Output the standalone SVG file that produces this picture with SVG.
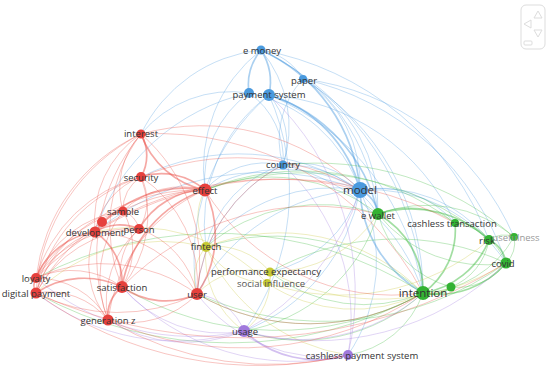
<svg xmlns="http://www.w3.org/2000/svg" width="550" height="367" viewBox="0 0 550 367">
<style>
#edges path{fill:none;stroke-width:1;stroke-opacity:0.32}
.r{stroke:#ea4a40}.b{stroke:#4f9de0}.g{stroke:#3dba3d}.y{stroke:#c9c83a}.p{stroke:#a27ce0}
.t{stroke-width:1.7!important;stroke-opacity:0.48!important}
.nr{fill:#e6413d}.nb{fill:#4a9ade}.ng{fill:#33b233}.ny{fill:#c6c933}.np{fill:#a079dc}
text{font-family:"Open Sans","Liberation Sans",sans-serif;font-size:9.5px;fill:#333;text-anchor:middle;dominant-baseline:central}
.big{font-size:11.5px}
</style>
<rect width="550" height="367" fill="#fff"/>
<g id="edges">
<path class="b t" d="M261,50 A60,60 0 0 1 269,95"/>
<path class="b t" d="M261,50 A55,55 0 0 0 249,93"/>
<path class="b" d="M261,50 A60,60 0 0 1 303,79"/>
<path class="b" d="M261,50 A120,120 0 0 1 283,165"/>
<path class="b t" d="M261,50 A170,170 0 0 1 360,190"/>
<path class="b" d="M261,50 A200,200 0 0 1 378,214"/>
<path class="b" d="M261,50 A290,290 0 0 1 423,293"/>
<path class="b" d="M261,50 A150,150 0 0 0 141,134"/>
<path class="b" d="M261,50 A150,150 0 0 0 205,190"/>
<path class="b" d="M261,50 A300,300 0 0 1 489,240"/>
<path class="b t" d="M269,95 A133,133 0 0 1 360,190"/>
<path class="b" d="M269,95 A71,71 0 0 1 283,165"/>
<path class="b t" d="M269,95 A160,160 0 0 1 378,214"/>
<path class="b" d="M269,95 A255,255 0 0 1 423,293"/>
<path class="b" d="M269,95 A222,222 0 0 1 455,223"/>
<path class="b" d="M269,95 A160,160 0 0 0 206,247"/>
<path class="b" d="M269,95 A215,215 0 0 0 197,294"/>
<path class="b" d="M269,95 A237,237 0 0 1 244,331"/>
<path class="b" d="M249,93 A148,148 0 0 1 360,190"/>
<path class="b" d="M249,93 A210,210 0 0 0 95,232"/>
<path class="b" d="M249,93 A107,107 0 0 0 205,190"/>
<path class="b" d="M249,93 A117,117 0 0 0 141,134"/>
<path class="b" d="M249,93 A80,80 0 0 1 283,165"/>
<path class="b" d="M303,79 A125,125 0 0 1 360,190"/>
<path class="b" d="M303,79 A88,88 0 0 0 283,165"/>
<path class="b" d="M303,79 A248,248 0 0 1 423,293"/>
<path class="b" d="M303,79 A276,276 0 0 1 506,263"/>
<path class="b" d="M303,79 A150,150 0 0 1 378,214"/>
<path class="b" d="M303,79 A265,265 0 0 1 514,237"/>
<path class="b" d="M283,165 A81,81 0 0 1 360,190"/>
<path class="b" d="M283,165 A107,107 0 0 1 378,214"/>
<path class="b" d="M283,165 A190,190 0 0 1 423,293"/>
<path class="b" d="M283,165 A80,80 0 0 0 205,190"/>
<path class="b" d="M283,165 A111,111 0 0 0 206,247"/>
<path class="b" d="M283,165 A157,157 0 0 0 197,294"/>
<path class="b t" d="M360,190 A30,30 0 0 1 378,214"/>
<path class="b t" d="M360,190 A124,124 0 0 0 423,293"/>
<path class="b" d="M360,190 A100,100 0 0 1 455,223"/>
<path class="b" d="M360,190 A140,140 0 0 1 489,240"/>
<path class="b" d="M360,190 A161,161 0 0 1 506,263"/>
<path class="b" d="M360,190 A155,155 0 0 0 205,190"/>
<path class="b" d="M360,190 A165,165 0 0 0 206,247"/>
<path class="b" d="M360,190 A187,187 0 0 1 244,331"/>
<path class="b" d="M360,190 A165,165 0 0 1 348,355"/>
<path class="b" d="M360,190 A196,196 0 0 0 197,294"/>
<path class="b" d="M360,190 A220,220 0 0 0 141,177"/>
<path class="b" d="M360,190 A270,270 0 0 0 95,232"/>
<path class="b" d="M360,190 A120,120 0 0 1 270,272"/>
<path class="g t" d="M378,214 A88,88 0 0 1 423,293"/>
<path class="g" d="M378,214 A78,78 0 0 1 455,223"/>
<path class="g t" d="M378,214 A113,113 0 0 1 489,240"/>
<path class="g" d="M378,214 A135,135 0 0 0 506,263"/>
<path class="g" d="M378,214 A137,137 0 0 1 514,237"/>
<path class="g" d="M378,214 A104,104 0 0 0 451,287"/>
<path class="g t" d="M423,293 A77,77 0 0 0 455,223"/>
<path class="g t" d="M423,293 A86,86 0 0 0 489,240"/>
<path class="g t" d="M423,293 A89,89 0 0 0 506,263"/>
<path class="g" d="M423,293 A111,111 0 0 0 514,237"/>
<path class="g t" d="M423,293 A29,29 0 0 0 451,287"/>
<path class="g" d="M451,287 A60,60 0 0 0 506,263"/>
<path class="g" d="M451,287 A62,62 0 0 0 489,240"/>
<path class="g t" d="M489,240 A29,29 0 0 1 506,263"/>
<path class="g" d="M489,240 A25,25 0 0 1 514,237"/>
<path class="g" d="M455,223 A38,38 0 0 1 489,240"/>
<path class="g" d="M455,223 A65,65 0 0 1 506,263"/>
<path class="g" d="M506,263 A27,27 0 0 0 514,237"/>
<path class="g" d="M423,293 A180,180 0 0 1 244,331"/>
<path class="g" d="M423,293 A226,226 0 0 1 197,294"/>
<path class="g" d="M423,293 A153,153 0 0 1 270,272"/>
<path class="g" d="M423,293 A222,222 0 0 0 206,247"/>
<path class="g" d="M423,293 A301,301 0 0 1 122,287"/>
<path class="g" d="M423,293 A400,400 0 0 1 36,293"/>
<path class="g" d="M378,214 A176,176 0 0 0 206,247"/>
<path class="g" d="M378,214 A174,174 0 0 0 205,190"/>
<path class="g" d="M506,263 A311,311 0 0 1 197,294"/>
<path class="g" d="M489,240 A290,290 0 0 0 205,190"/>
<path class="g" d="M423,293 A95,95 0 0 1 348,355"/>
<path class="g" d="M455,223 A253,253 0 0 0 205,190"/>
<path class="g" d="M378,214 A170,170 0 0 1 244,331"/>
<path class="g" d="M423,293 A387,387 0 0 0 36,278"/>
<path class="g" d="M514,237 A300,300 0 0 0 283,165"/>
<path class="g" d="M506,263 A260,260 0 0 0 270,272"/>
<path class="y" d="M206,247 A70,70 0 0 1 270,272"/>
<path class="y" d="M206,247 A72,72 0 0 0 267,283"/>
<path class="y" d="M206,247 A48,48 0 0 0 197,294"/>
<path class="y" d="M206,247 A57,57 0 0 1 205,190"/>
<path class="y" d="M206,247 A91,91 0 0 0 244,331"/>
<path class="y" d="M270,272 A11,11 0 0 1 267,283"/>
<path class="y" d="M270,272 A66,66 0 0 1 244,331"/>
<path class="y" d="M270,272 A237,237 0 0 0 506,263"/>
<path class="y" d="M270,272 A76,76 0 0 0 197,294"/>
<path class="y" d="M267,283 A156,156 0 0 0 423,293"/>
<path class="y" d="M267,283 A182,182 0 0 0 95,232"/>
<path class="y" d="M206,247 A178,178 0 0 0 36,293"/>
<path class="y" d="M206,247 A186,186 0 0 0 348,355"/>
<path class="y" d="M270,272 A128,128 0 0 0 378,214"/>
<path class="y" d="M267,283 A228,228 0 0 0 489,240"/>
<path class="y" d="M206,247 A200,200 0 0 1 423,293"/>
<path class="p t" d="M244,331 A106,106 0 0 0 348,355"/>
<path class="p" d="M244,331 A59,59 0 0 0 197,294"/>
<path class="p" d="M244,331 A129,129 0 0 1 122,287"/>
<path class="p" d="M244,331 A230,230 0 0 1 36,293"/>
<path class="p" d="M244,331 A186,186 0 0 0 423,293"/>
<path class="p" d="M244,331 A271,271 0 0 0 506,263"/>
<path class="p" d="M244,331 A240,240 0 0 1 36,278"/>
<path class="p" d="M348,355 A160,160 0 0 1 197,294"/>
<path class="p" d="M348,355 A235,235 0 0 1 122,287"/>
<path class="p" d="M348,355 A208,208 0 0 0 283,165"/>
<path class="p" d="M348,355 A270,270 0 0 0 269,95"/>
<path class="p" d="M244,331 A150,150 0 0 1 108,320"/>
<path class="p" d="M244,331 A240,240 0 0 0 360,190"/>
<path class="r t" d="M141,134 A43,43 0 0 1 141,177"/>
<path class="r t" d="M141,134 A87,87 0 0 0 205,190"/>
<path class="r" d="M141,134 A105,105 0 0 0 95,232"/>
<path class="r" d="M141,134 A80,80 0 0 0 123,211"/>
<path class="r" d="M141,134 A182,182 0 0 0 36,278"/>
<path class="r" d="M141,134 A191,191 0 0 0 36,293"/>
<path class="r" d="M141,134 A154,154 0 0 0 122,287"/>
<path class="r" d="M141,134 A170,170 0 0 1 197,294"/>
<path class="r" d="M141,134 A189,189 0 0 0 108,320"/>
<path class="r" d="M141,134 A227,227 0 0 1 360,190"/>
<path class="r" d="M141,134 A300,300 0 0 1 423,293"/>
<path class="r t" d="M141,177 A66,66 0 0 1 205,190"/>
<path class="r" d="M141,177 A38,38 0 0 0 123,211"/>
<path class="r" d="M141,177 A72,72 0 0 0 95,232"/>
<path class="r" d="M141,177 A52,52 0 0 1 139,229"/>
<path class="r" d="M141,177 A112,112 0 0 1 122,287"/>
<path class="r" d="M141,177 A127,127 0 0 1 197,294"/>
<path class="r" d="M141,177 A147,147 0 0 0 36,278"/>
<path class="r" d="M141,177 A155,155 0 0 0 36,293"/>
<path class="r t" d="M205,190 A114,114 0 0 0 95,232"/>
<path class="r t" d="M205,190 A77,77 0 0 0 139,229"/>
<path class="r t" d="M205,190 A124,124 0 0 0 122,287"/>
<path class="r t" d="M205,190 A104,104 0 0 1 197,294"/>
<path class="r" d="M205,190 A166,166 0 0 0 108,320"/>
<path class="r" d="M205,190 A194,194 0 0 0 36,278"/>
<path class="r" d="M205,190 A200,200 0 0 0 36,293"/>
<path class="r" d="M205,190 A84,84 0 0 0 123,211"/>
<path class="r" d="M123,211 A36,36 0 0 0 95,232"/>
<path class="r" d="M123,211 A24,24 0 0 1 139,229"/>
<path class="r" d="M123,211 A76,76 0 0 1 122,287"/>
<path class="r" d="M123,211 A110,110 0 0 0 36,278"/>
<path class="r" d="M123,211 A120,120 0 0 0 36,293"/>
<path class="r" d="M123,211 A110,110 0 0 0 108,320"/>
<path class="r t" d="M95,232 A47,47 0 0 1 139,229"/>
<path class="r t" d="M95,232 A75,75 0 0 0 36,278"/>
<path class="r" d="M95,232 A88,88 0 0 0 36,293"/>
<path class="r t" d="M95,232 A61,61 0 0 1 122,287"/>
<path class="r" d="M95,232 A89,89 0 0 0 108,320"/>
<path class="r" d="M95,232 A124,124 0 0 1 197,294"/>
<path class="r" d="M139,229 A60,60 0 0 0 122,287"/>
<path class="r" d="M139,229 A88,88 0 0 1 197,294"/>
<path class="r" d="M139,229 A115,115 0 0 0 36,278"/>
<path class="r" d="M139,229 A121,121 0 0 0 36,293"/>
<path class="r" d="M139,229 A97,97 0 0 0 108,320"/>
<path class="r t" d="M36,278 A15,15 0 0 0 36,293"/>
<path class="r" d="M36,278 A86,86 0 0 1 122,287"/>
<path class="r" d="M36,278 A82,82 0 0 1 108,320"/>
<path class="r" d="M36,278 A161,161 0 0 1 197,294"/>
<path class="r t" d="M36,293 A86,86 0 0 1 122,287"/>
<path class="r" d="M36,293 A76,76 0 0 1 108,320"/>
<path class="r" d="M36,293 A180,180 0 0 0 197,294"/>
<path class="r t" d="M122,287 A75,75 0 0 0 197,294"/>
<path class="r t" d="M122,287 A36,36 0 0 0 108,320"/>
<path class="r" d="M108,320 A93,93 0 0 0 197,294"/>
<path class="r" d="M197,294 A157,157 0 0 1 283,165"/>
<path class="r" d="M36,278 A338,338 0 0 1 360,190"/>
<path class="r" d="M36,293 A500,500 0 0 0 506,263"/>
<path class="r" d="M108,320 A330,330 0 0 0 423,293"/>
<path class="r" d="M122,287 A268,268 0 0 1 378,214"/>
<path class="r" d="M95,232 A360,360 0 0 1 455,223"/>
<path class="r" d="M197,294 A226,226 0 0 0 423,293"/>
<path class="r" d="M36,293 A380,380 0 0 0 348,355"/>
<path class="r" d="M141,177 A250,250 0 0 1 360,190"/>
<path class="r" d="M205,190 A220,220 0 0 0 423,293"/>
<path class="r" d="M108,320 A320,320 0 0 0 348,355"/>
</g>
<g id="nav" fill="none" stroke="#ddd" stroke-width="1">
<rect x="521" y="5" width="24" height="44" rx="5"/>
<path d="M538,11 L542,18 L534,18 Z"/>
<path d="M524,24 L531,20 L531,28 Z"/>
<path d="M538,37 L542,30 L534,30 Z"/>
<rect x="524" y="41" width="8" height="4" rx="1"/>
</g>
<g id="nodes">
<g id="n-emoney"><circle class="nb" cx="261" cy="50" r="4.5"/><text x="262" y="50">e money</text></g>
<g id="n-paper"><circle class="nb" cx="303" cy="79" r="4"/><text x="304" y="80">paper</text></g>
<g id="n-paymentsystem"><circle class="nb" cx="249" cy="93" r="5"/><circle class="nb" cx="269" cy="95" r="6"/><text x="269" y="94">payment system</text></g>
<g id="n-country"><circle class="nb" cx="283" cy="165" r="4.5"/><text x="283" y="164">country</text></g>
<g id="n-model"><circle class="nb" cx="360" cy="190" r="8"/><text class="big" x="360" y="189">model</text></g>
<g id="n-ewallet"><circle class="ng" cx="378" cy="214" r="6"/><text x="378" y="215">e wallet</text></g>
<g id="n-cashlesstransaction"><circle class="ng" cx="455" cy="223" r="4"/><text x="452" y="223">cashless transaction</text></g>
<g id="n-risk"><circle class="ng" cx="489" cy="240" r="5"/><text x="487" y="240">risk</text></g>
<g id="n-usefulness"><circle class="ng" cx="514" cy="237" r="4"/><text x="516" y="237" style="fill:#9a9a9a">usefulness</text></g>
<g id="n-covid"><circle class="ng" cx="506" cy="263" r="5.5"/><text x="503" y="263">covid</text></g>
<g id="n-intention"><circle class="ng" cx="423" cy="293" r="7"/><text class="big" x="423" y="292">intention</text></g>
<g id="n-green2"><circle class="ng" cx="451" cy="287" r="4.5"/></g>
<g id="n-fintech"><circle class="ny" cx="206" cy="247" r="5"/><text x="206" y="246">fintech</text></g>
<g id="n-performanceexpectancy"><circle class="ny" cx="270" cy="272" r="4.5"/><text x="266" y="271">performance expectancy</text></g>
<g id="n-socialinfluence"><circle class="ny" cx="267" cy="283" r="4"/><text x="271" y="283" style="fill:#555">social influence</text></g>
<g id="n-usage"><circle class="np" cx="244" cy="331" r="6"/><text x="245" y="331">usage</text></g>
<g id="n-cashlesspaymentsystem"><circle class="np" cx="348" cy="355" r="5"/><text x="362" y="355">cashless payment system</text></g>
<g id="n-interest"><circle class="nr" cx="141" cy="134" r="4.5"/><text x="141" y="133">interest</text></g>
<g id="n-security"><circle class="nr" cx="141" cy="177" r="5"/><text x="141" y="177">security</text></g>
<g id="n-effect"><circle class="nr" cx="205" cy="190" r="6.5"/><text x="205" y="190">effect</text></g>
<g id="n-sample"><circle class="nr" cx="123" cy="211" r="4.5"/><text x="123" y="211">sample</text></g>
<g id="n-development"><circle class="nr" cx="102" cy="222" r="5"/><circle class="nr" cx="95" cy="232" r="5.5"/><text x="95" y="232">development</text></g>
<g id="n-person"><circle class="nr" cx="139" cy="229" r="5"/><text x="139" y="229">person</text></g>
<g id="n-loyalty"><circle class="nr" cx="36" cy="278" r="5"/><text x="36" y="278">loyalty</text></g>
<g id="n-digitalpayment"><circle class="nr" cx="36" cy="293" r="5.5"/><text x="36" y="293">digital payment</text></g>
<g id="n-satisfaction"><circle class="nr" cx="122" cy="287" r="6"/><text x="122" y="287">satisfaction</text></g>
<g id="n-user"><circle class="nr" cx="197" cy="294" r="6"/><text x="197" y="294">user</text></g>
<g id="n-generationz"><circle class="nr" cx="108" cy="320" r="5.5"/><text x="108" y="320">generation z</text></g>
</g>
</svg>
